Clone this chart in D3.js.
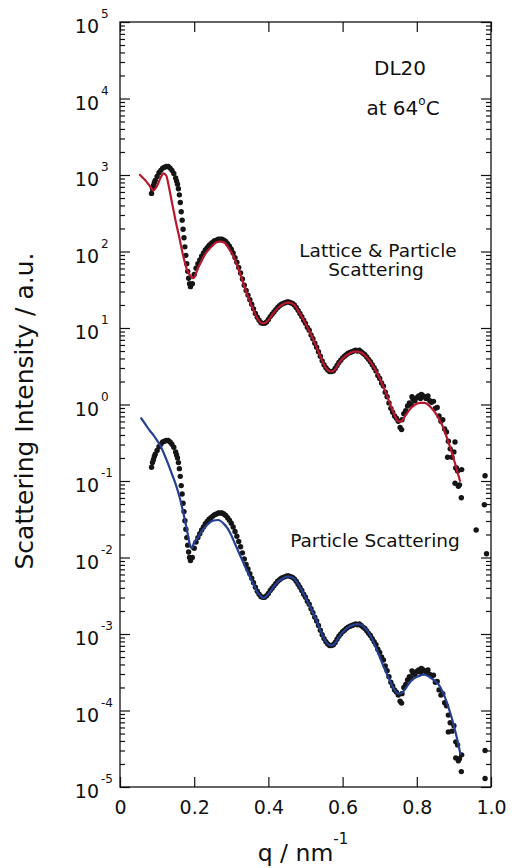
<!DOCTYPE html>
<html>
<head>
<meta charset="utf-8">
<script src="https://cdn.jsdelivr.net/npm/d3@7"></script>
<style>
  body { margin: 0; background: #fff; }
  text { font-family: "DejaVu Sans", sans-serif; fill: #111; }
</style>
</head>
<body>
<div id="chart"></div>
<script>
// Measured q grid (nm^-1), shared by both data sets
const qMeasured = [
  0.085,0.09,0.095,0.1,0.105,0.11,0.115,0.12,0.125,0.13,
  0.135,0.14,0.145,0.15,0.155,0.16,0.165,0.17,0.175,0.18,
  0.185,0.19,0.195,0.2,0.205,0.21,0.215,0.22,0.225,0.23,
  0.235,0.24,0.245,0.25,0.255,0.26,0.265,0.27,0.275,0.28,
  0.285,0.29,0.295,0.3,0.305,0.31,0.315,0.32,0.325,0.33,
  0.335,0.34,0.345,0.35,0.355,0.36,0.365,0.37,0.375,0.38,
  0.385,0.39,0.395,0.4,0.405,0.41,0.415,0.42,0.425,0.43,
  0.435,0.44,0.445,0.45,0.455,0.46,0.465,0.47,0.475,0.48,
  0.485,0.49,0.495,0.5,0.505,0.51,0.515,0.52,0.525,0.53,
  0.535,0.54,0.545,0.55,0.555,0.56,0.565,0.57,0.575,0.58,
  0.585,0.59,0.595,0.6,0.605,0.61,0.615,0.62,0.625,0.63,
  0.635,0.64,0.645,0.65,0.655,0.66,0.665,0.67,0.675,0.68,
  0.685,0.69,0.695,0.7,0.705,0.71,0.715,0.72,0.725,0.73,
  0.735,0.74,0.745,0.75,0.755,0.76,0.765,0.77,0.775,0.78,
  0.785,0.79,0.795,0.8,0.805,0.81,0.815,0.82,0.825,0.83,
  0.835,0.84,0.845,0.85,0.855,0.86,0.865,0.87,0.875,0.88,
  0.885,0.89,0.895,0.9,0.905,0.91,0.915,0.92
];

// Lattice & particle scattering, measured intensity (a.u.)
const latticeData = [
  575,724,851,955,1070,1150,1230,1260,1290,1290,
  1230,1150,1050,912,759,550,331,195,115,69.2,
  44.7,34.7,38.0,50.1,60.3,69.2,77.6,87.1,95.5,105,
  112,120,126,132,138,141,145,145,145,141,
  135,126,117,107,95.5,83.2,72.4,61.7,52.5,43.7,
  36.3,30.9,26.9,23.4,20.4,17.8,15.5,13.8,12.6,11.7,
  11.5,11.5,12.0,12.9,14.1,15.1,16.2,17.4,18.6,19.5,
  20.4,20.9,21.4,21.9,21.9,21.4,20.9,20.0,18.6,17.0,
  15.5,14.1,12.6,11.5,10.2,9.33,8.13,7.24,6.31,5.62,
  4.90,4.27,3.72,3.31,3.02,2.82,2.69,2.69,2.75,2.95,
  3.24,3.55,3.80,4.07,4.27,4.47,4.68,4.79,4.90,5.01,
  5.13,5.01,5.13,4.90,4.68,4.47,4.17,3.89,3.63,3.31,
  3.02,2.75,2.40,2.19,1.91,1.74,1.45,1.26,1.05,0.891,
  0.794,0.708,0.661,0.603,0.501,0.631,0.759,0.832,0.955,1.05,
  1.00,1.17,1.12,1.23,1.29,1.20,1.32,1.26,1.20,1.29,
  1.12,1.07,1.10,0.891,0.912,0.708,0.603,0.631,0.479,0.437,
  0.331,0.263,0.204,0.240,0.148,0.135,0.0891,0.0603
];

// Particle scattering, measured intensity (a.u.)
const particleData = [
  0.151,0.190,0.224,0.251,0.281,0.302,0.323,0.331,0.339,0.339,
  0.323,0.302,0.276,0.240,0.200,0.145,0.0871,0.0513,0.0302,0.0182,
  0.0118,0.00913,0.00999,0.0132,0.0159,0.0182,0.0204,0.0229,0.0251,0.0276,
  0.0295,0.0316,0.0331,0.0347,0.0363,0.0371,0.0381,0.0381,0.0381,0.0371,
  0.0355,0.0331,0.0308,0.0281,0.0251,0.0219,0.0190,0.0162,0.0138,0.0115,
  0.00955,0.00813,0.00707,0.00615,0.00537,0.00468,0.00408,0.00363,0.00331,0.00308,
  0.00302,0.00302,0.00316,0.00339,0.00371,0.00397,0.00426,0.00458,0.00489,0.00513,
  0.00537,0.00550,0.00563,0.00576,0.00576,0.00563,0.00550,0.00526,0.00489,0.00447,
  0.00408,0.00371,0.00331,0.00302,0.00268,0.00245,0.00214,0.00190,0.00166,0.00148,
  0.00129,0.00112,0.000978,0.000871,0.000794,0.000742,0.000707,0.000707,0.000723,0.000776,
  0.000852,0.000934,0.000999,0.00107,0.00112,0.00118,0.00123,0.00126,0.00129,0.00132,
  0.00135,0.00132,0.00135,0.00129,0.00123,0.00118,0.00110,0.00102,0.000955,0.000871,
  0.000794,0.000723,0.000631,0.000576,0.000502,0.000458,0.000381,0.000331,0.000276,0.000234,
  0.000209,0.000186,0.000174,0.000159,0.000132,0.000166,0.000200,0.000219,0.000251,0.000276,
  0.000263,0.000308,0.000295,0.000323,0.000339,0.000316,0.000347,0.000331,0.000316,0.000339,
  0.000295,0.000281,0.000289,0.000234,0.000240,0.000186,0.000159,0.000166,0.000126,0.000115,
  0.0000871,0.0000692,0.0000537,0.0000631,0.0000389,0.0000355,0.0000234,0.0000159
];

const latticeExtra = [
  [0.0875,661],[0.0925,794],[0.1525,832],[0.1575,661],[0.1625,437],[0.1675,257],
  [0.1725,151],[0.1775,89.1],[0.1825,55.0],[0.1875,38.0],
  [0.759,0.47],[0.787,1.26],[0.812,1.35],[0.883,0.204],[0.903,0.324],[0.907,0.148],
  [0.921,0.141],[0.903,0.0933],[0.912,0.0851],[0.96,0.0229],[0.982,0.049],
  [0.984,0.117],[0.988,0.0112]
];
const particleExtra = [
  [0.0875,0.174],[0.0925,0.209],[0.1525,0.219],[0.1575,0.174],[0.1625,0.115],[0.1675,0.0676],
  [0.1725,0.0398],[0.1775,0.0234],[0.1825,0.0145],[0.1875,0.0100],
  [0.759,0.000125],[0.787,0.00033],[0.812,0.000355],[0.885,0.0000525],[0.905,0.000024],
  [0.912,0.000022],[0.921,0.0000263],[0.984,0.00003],[0.984,0.0000129]
];

// Model fits
const latticeFitQ = [
  0.052,0.06,0.07,0.08,0.09,0.1,0.11,0.117,0.125,0.13,0.14,0.15,0.16,0.17,0.18,0.19,0.198,
  0.21,0.22,0.23,0.24,0.25,0.26,0.27,0.28,0.29,0.3,0.31,0.32,0.33,0.34,0.35,0.36,0.37,0.38,0.386,
  0.4,0.41,0.42,0.43,0.44,0.45,0.456,0.47,0.48,0.49,0.5,0.51,0.52,0.53,0.54,0.55,0.56,0.57,
  0.58,0.59,0.6,0.61,0.62,0.63,0.64,0.65,0.66,0.67,0.68,0.69,0.7,0.71,0.72,0.73,0.74,0.75,0.755,
  0.76,0.77,0.78,0.79,0.8,0.81,0.82,0.83,0.84,0.85,0.86,0.87,0.88,0.89,0.9,0.91,0.917
];
const latticeFitI = [
  1020,933,832,724,631,724,933,1050,977,776,437,251,151,89.1,58.9,47.9,44.7,
  60.3,75.9,93.3,107,120,132,135,132,117,97.7,77.6,57.5,41.7,30.2,22.4,17.0,13.5,11.7,11.5,
  12.6,14.8,17.0,19.1,20.4,21.4,21.4,20.0,17.0,14.1,11.5,9.12,7.24,5.62,4.27,3.31,2.82,2.69,
  2.88,3.47,3.98,4.37,4.68,4.90,4.90,4.79,4.37,3.89,3.31,2.75,2.19,1.70,1.29,0.955,0.724,0.603,0.596,
  0.617,0.724,0.851,0.955,1.02,1.05,1.05,1.00,0.891,0.776,0.646,0.513,0.380,0.275,0.191,0.129,0.0977
];

const particleFitQ = [
  0.056,0.07,0.08,0.09,0.1,0.11,0.12,0.13,0.14,0.15,0.16,0.17,0.18,0.188,0.193,
  0.2,0.21,0.22,0.23,0.24,0.25,0.265,0.28,0.29,0.3,0.31,0.32,0.33,0.34,0.35,0.36,0.37,0.38,0.386,
  0.4,0.41,0.42,0.43,0.44,0.45,0.456,0.47,0.48,0.49,0.5,0.51,0.52,0.53,0.54,0.55,0.56,0.57,
  0.58,0.59,0.6,0.61,0.62,0.63,0.64,0.65,0.66,0.67,0.68,0.69,0.7,0.71,0.72,0.73,0.74,0.75,0.755,
  0.76,0.77,0.78,0.79,0.8,0.81,0.82,0.83,0.84,0.85,0.86,0.87,0.88,0.89,0.9,0.91,0.918
];
const particleFitI = [
  0.676,0.537,0.457,0.398,0.339,0.282,0.219,0.166,0.123,0.0912,0.0631,0.0398,0.0234,0.0151,0.0132,
  0.0158,0.0182,0.0219,0.0251,0.0282,0.0302,0.0309,0.0275,0.0240,0.0195,0.0151,0.0117,0.00912,0.00708,0.00562,0.00447,0.00355,0.00309,0.00295,
  0.00331,0.00389,0.00447,0.00501,0.00537,0.00562,0.00562,0.00525,0.00447,0.00372,0.00302,0.00240,0.00191,0.00148,0.00112,0.000871,0.000741,0.000708,
  0.000759,0.000912,0.00105,0.00117,0.00126,0.00132,0.00135,0.00132,0.00120,0.00105,0.000851,0.000661,0.000501,0.000380,0.000295,0.000229,0.000186,0.000166,0.000166,
  0.000170,0.000195,0.000229,0.000257,0.000275,0.000288,0.000295,0.000282,0.000263,0.000240,0.000214,0.000174,0.000132,0.0000933,0.0000631,0.0000398,0.0000263
];

const xTicks = [0, 0.2, 0.4, 0.6, 0.8, 1.0];
const xTickLabels = ["0", "0.2", "0.4", "0.6", "0.8", "1.0"];
const yExponents = [5, 4, 3, 2, 1, 0, -1, -2, -3, -4, -5];

// Configuration
const config = {
    width: 512,
    height: 868,
    margin: { top: 22, right: 21, bottom: 81, left: 120 },
    majorTick: 10,
    minorTick: 5,
    dotRadius: 2.7
};

const svg = d3.select("#chart")
    .append("svg")
    .attr("width", config.width)
    .attr("height", config.height);

const plotLeft = config.margin.left;
const plotRight = config.width - config.margin.right;
const plotTop = config.margin.top;
const plotBottom = config.height - config.margin.bottom;

// Scales
const x = d3.scaleLinear().domain([0, 1]).range([plotLeft, plotRight]);
const y = d3.scaleLog().domain([1e-5, 1e5]).range([plotBottom, plotTop]);

const majorY = yExponents.map(e => Math.pow(10, e));
const minorY = [];
yExponents.slice(1).forEach(e => {
    for (let m = 2; m <= 9; m++) minorY.push(m * Math.pow(10, e));
});

// Ticks, all pointing inward
function addAxis(axis, tx, ty) {
    const g = svg.append("g")
        .attr("transform", `translate(${tx},${ty})`)
        .call(axis);
    g.select(".domain").remove();
    g.selectAll(".tick line").attr("stroke", "#111").attr("stroke-width", 1.2);
    return g;
}

addAxis(d3.axisLeft(y).tickValues(majorY).tickSize(-config.majorTick).tickFormat(""), plotLeft, 0);
addAxis(d3.axisLeft(y).tickValues(minorY).tickSize(-config.minorTick).tickFormat(""), plotLeft, 0);
addAxis(d3.axisRight(y).tickValues(majorY).tickSize(-config.majorTick).tickFormat(""), plotRight, 0);
addAxis(d3.axisRight(y).tickValues(minorY).tickSize(-config.minorTick).tickFormat(""), plotRight, 0);
addAxis(d3.axisTop(x).tickValues(xTicks).tickSize(-config.majorTick).tickFormat(""), 0, plotTop);

const xAxisG = addAxis(d3.axisBottom(x)
    .tickValues(xTicks)
    .tickSizeInner(-config.majorTick)
    .tickSizeOuter(0)
    .tickPadding(14)
    .tickFormat((d, i) => xTickLabels[i]), 0, plotBottom);
xAxisG.attr("font-family", null).attr("font-size", null);
xAxisG.selectAll("text").style("font-size", "19px");

// Frame
svg.append("rect")
    .attr("x", plotLeft)
    .attr("y", plotTop)
    .attr("width", plotRight - plotLeft)
    .attr("height", plotBottom - plotTop)
    .attr("fill", "none")
    .attr("stroke", "#111")
    .attr("stroke-width", 1.3);

// Y tick labels: 10 with superscript exponent
const yLabels = svg.append("g");
yExponents.forEach(e => {
    const yy = y(Math.pow(10, e));
    yLabels.append("text")
        .attr("x", 99)
        .attr("y", yy + 11)
        .attr("text-anchor", "end")
        .style("font-size", "19px")
        .text("10");
    yLabels.append("text")
        .attr("x", 101)
        .attr("y", yy - 4)
        .style("font-size", "12px")
        .text(e);
});

// Data points
function addDots(qs, vals, extra) {
    const pts = qs.map((q, i) => [q, vals[i]]).concat(extra);
    svg.append("g")
        .selectAll("circle")
        .data(pts)
        .enter()
        .append("circle")
        .attr("cx", d => x(d[0]))
        .attr("cy", d => y(d[1]))
        .attr("r", config.dotRadius)
        .attr("fill", "#151515");
}
addDots(qMeasured, latticeData, latticeExtra);
addDots(qMeasured, particleData, particleExtra);

// Fit lines
const line = d3.line()
    .x(d => x(d[0]))
    .y(d => y(d[1]))
    .curve(d3.curveMonotoneX);

svg.append("path")
    .datum(d3.zip(latticeFitQ, latticeFitI))
    .attr("d", line)
    .attr("fill", "none")
    .attr("stroke", "#b8172e")
    .attr("stroke-width", 2.2);

svg.append("path")
    .datum(d3.zip(particleFitQ, particleFitI))
    .attr("d", line)
    .attr("fill", "none")
    .attr("stroke", "#253f92")
    .attr("stroke-width", 2.2);

// Axis titles
svg.append("text")
    .attr("transform", "translate(33,411) rotate(-90)")
    .attr("text-anchor", "middle")
    .style("font-size", "25px")
    .text("Scattering Intensity / a.u.");

const xTitle = svg.append("text")
    .attr("x", 303)
    .attr("y", 861)
    .attr("text-anchor", "middle")
    .style("font-size", "23.5px");
xTitle.append("tspan").text("q / nm");
xTitle.append("tspan").attr("dy", -17).style("font-size", "15px").text("-1");

// Annotations
svg.append("text")
    .attr("x", 400).attr("y", 75)
    .attr("text-anchor", "middle")
    .style("font-size", "20px")
    .text("DL20");

const tempLabel = svg.append("text")
    .attr("x", 403).attr("y", 115)
    .attr("text-anchor", "middle")
    .style("font-size", "20px");
tempLabel.append("tspan").text("at 64");
tempLabel.append("tspan").attr("dy", -10).style("font-size", "12px").text("o");
tempLabel.append("tspan").attr("dy", 10).text("C");

svg.append("text")
    .attr("x", 378).attr("y", 257)
    .attr("text-anchor", "middle")
    .style("font-size", "18.5px")
    .text("Lattice & Particle");

svg.append("text")
    .attr("x", 376).attr("y", 276)
    .attr("text-anchor", "middle")
    .style("font-size", "18.5px")
    .text("Scattering");

svg.append("text")
    .attr("x", 375).attr("y", 547)
    .attr("text-anchor", "middle")
    .style("font-size", "18.5px")
    .text("Particle Scattering");
</script>
</body>
</html>
